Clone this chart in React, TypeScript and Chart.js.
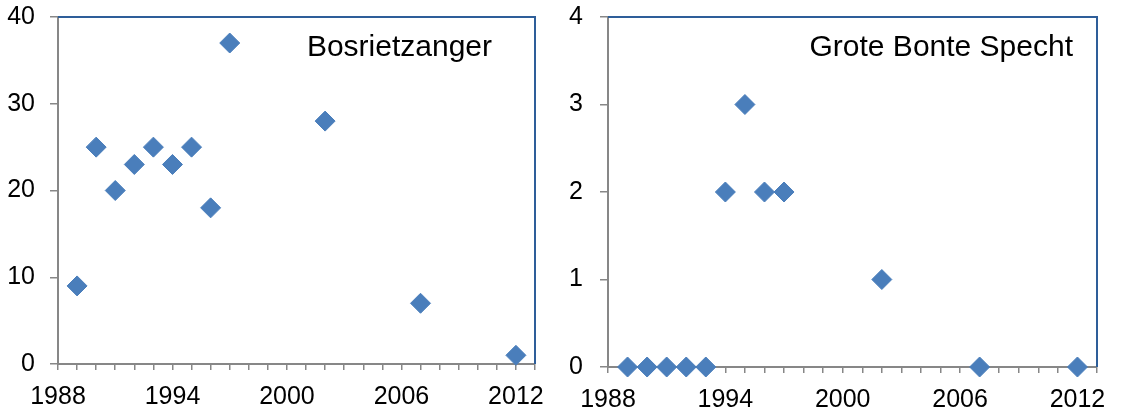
import { useEffect, useRef } from 'react';
import { Chart, registerables } from 'chart.js';

Chart.register(...registerables);

// ---- data ----
const bosYears = [1989, 1990, 1991, 1992, 1993, 1994, 1995, 1996, 1997, 2002, 2007, 2012];
const bosValues = [9, 25, 20, 23, 25, 23, 25, 18, 37, 28, 7, 1];

const specYears = [1989, 1990, 1991, 1992, 1993, 1994, 1995, 1996, 1997, 2002, 2007, 2012];
const specValues = [0, 0, 0, 0, 0, 2, 3, 2, 2, 1, 0, 0];

const xTickLabels = ['1988', '1994', '2000', '2006', '2012'];
const bosTitle = 'Bosrietzanger';
const specTitle = 'Grote Bonte Specht';

const FONT = '"Liberation Sans", Arial, sans-serif';
const MARKER = '#4A7EBB';
const AXIS = '#878787';
const FRAME = '#2E5E99';

const framePlugin = {
  id: 'frame',
  afterDraw(chart: any, _args: any, opts: any) {
    const { ctx, chartArea } = chart;
    const { left, top, right, bottom } = chartArea;
    ctx.save();
    ctx.strokeStyle = FRAME;
    ctx.lineWidth = 2;
    ctx.beginPath();
    ctx.moveTo(left, top);
    ctx.lineTo(right, top);
    ctx.lineTo(right, bottom);
    ctx.stroke();
    ctx.font = '30px ' + FONT;
    ctx.fillStyle = '#000';
    ctx.textAlign = 'right';
    ctx.textBaseline = 'alphabetic';
    ctx.fillText(opts.text, right - opts.offsetRight, top + 39);
    ctx.restore();
  },
};

function makeConfig(
  xs: number[],
  ys: number[],
  yMax: number,
  yStep: number,
  title: string,
  layout: { yW: number; xH: number; padRight: number; titleRight: number; yPad: number; padTop: number }
): any {
  return {
    type: 'scatter',
    data: {
      datasets: [
        {
          data: xs.map((x, i) => ({ x, y: ys[i] })),
          pointStyle: 'rectRot',
          pointRadius: 10,
          pointHoverRadius: 10,
          backgroundColor: MARKER,
          borderColor: MARKER,
          borderWidth: 1,
          clip: false,
        },
      ],
    },
    options: {
      animation: false,
      responsive: false,
      maintainAspectRatio: false,
      layout: { padding: { top: layout.padTop, right: layout.padRight, bottom: 0, left: 0 } },
      plugins: {
        legend: { display: false },
        tooltip: { enabled: false },
        frame: { text: title, offsetRight: layout.titleRight },
      },
      scales: {
        x: {
          type: 'linear',
          min: 1988,
          max: 2013,
          afterFit: (s: any) => {
            s.height = layout.xH;
            s.paddingLeft = 0;
            s.paddingRight = 0;
          },
          ticks: {
            stepSize: 1,
            autoSkip: false,
            maxRotation: 0,
            minRotation: 0,
            padding: 12,
            color: '#000',
            font: { size: 25, family: FONT },
            callback: (v: any) => (xTickLabels.includes(String(v)) ? String(v) : ''),
          },
          grid: {
            drawOnChartArea: false,
            drawTicks: true,
            tickLength: 6,
            color: AXIS,
            lineWidth: 1.5,
          },
          border: { display: true, color: AXIS, width: 2 },
        },
        y: {
          min: 0,
          max: yMax,
          afterFit: (s: any) => {
            s.width = layout.yW;
            s.paddingTop = 0;
            s.paddingBottom = 0;
          },
          ticks: {
            stepSize: yStep,
            padding: layout.yPad,
            color: '#000',
            font: { size: 25, family: FONT },
          },
          grid: {
            drawOnChartArea: false,
            drawTicks: true,
            tickLength: 8,
            color: AXIS,
            lineWidth: 1.5,
          },
          border: { display: true, color: AXIS, width: 2 },
        },
      },
    },
    plugins: [framePlugin],
  };
}

export default function App() {
  const leftRef = useRef<HTMLCanvasElement>(null);
  const rightRef = useRef<HTMLCanvasElement>(null);

  useEffect(() => {
    const c1 = new Chart(
      leftRef.current!,
      makeConfig(bosYears, bosValues, 40, 10, bosTitle, {
        yW: 58,
        xH: 49,
        padRight: 25,
        titleRight: 43,
        yPad: 15,
        padTop: 17,
      })
    );
    const c2 = new Chart(
      rightRef.current!,
      makeConfig(specYears, specValues, 4, 1, specTitle, {
        yW: 48,
        xH: 46,
        padRight: 26,
        titleRight: 24,
        yPad: 17,
        padTop: 17,
      })
    );
    return () => {
      c1.destroy();
      c2.destroy();
    };
  }, []);

  return (
    <div
      style={{
        position: 'fixed',
        left: 0,
        top: 0,
        width: 1123,
        height: 413,
        background: '#fff',
      }}
    >
      <canvas
        ref={leftRef}
        width={560}
        height={413}
        style={{ position: 'absolute', left: 0, top: 0, width: 560, height: 413 }}
      />
      <canvas
        ref={rightRef}
        width={563}
        height={413}
        style={{ position: 'absolute', left: 560, top: 0, width: 563, height: 413 }}
      />
    </div>
  );
}
